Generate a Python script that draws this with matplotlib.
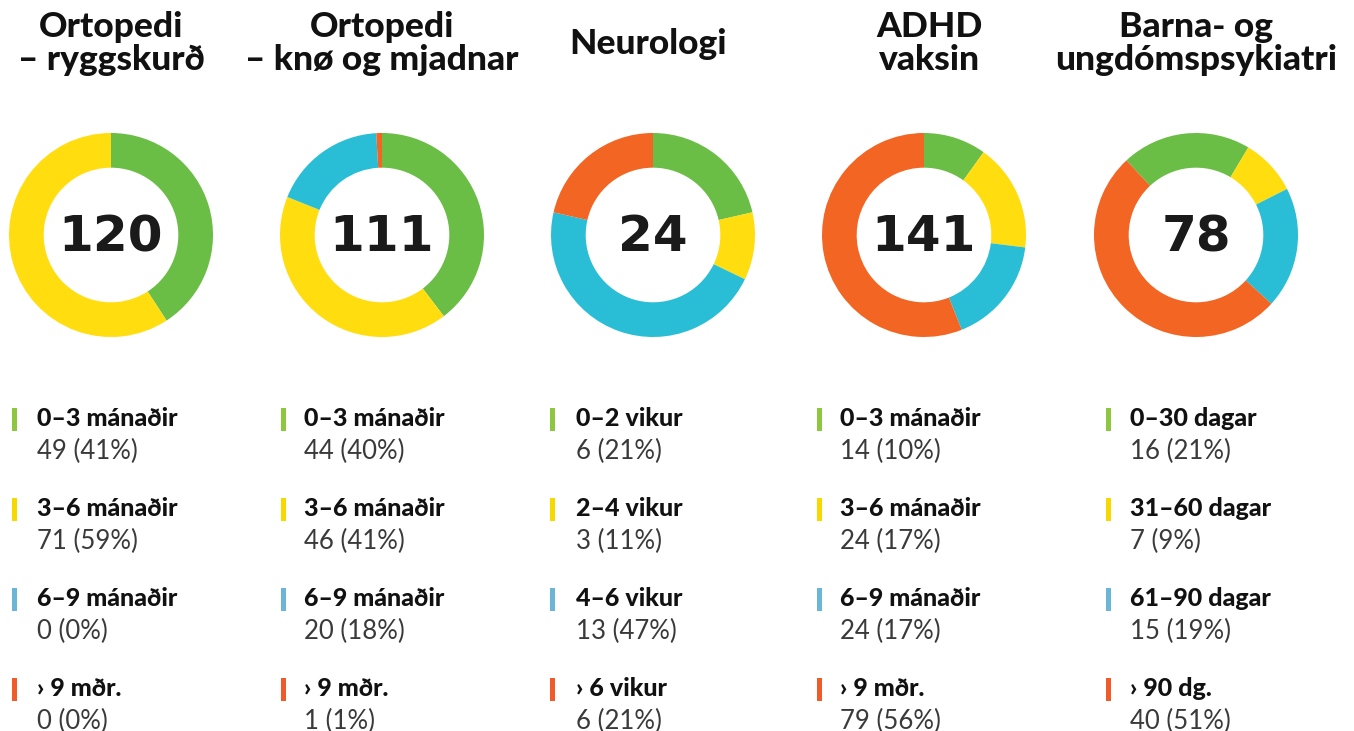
import matplotlib
matplotlib.use("Agg")
import matplotlib.pyplot as plt
from matplotlib.patches import Rectangle

titles = ["Ortopedi\n– ryggskurð", "Ortopedi\n– knø og mjadnar", "Neurologi",
          "ADHD\nvaksin", "Barna- og\nungdómspsykiatri"]
totals = ["120", "111", "24", "141", "78"]
values = [
    [49, 71, 0, 0],
    [44, 46, 20, 1],
    [6, 3, 13, 6],
    [14, 24, 24, 79],
    [16, 7, 15, 40],
]
percents = [
    [41, 59, 0, 0],
    [40, 41, 18, 1],
    [21, 11, 47, 21],
    [10, 17, 17, 56],
    [21, 9, 19, 51],
]
labels = [
    ["0–3 mánaðir", "3–6 mánaðir", "6–9 mánaðir", "› 9 mðr."],
    ["0–3 mánaðir", "3–6 mánaðir", "6–9 mánaðir", "› 9 mðr."],
    ["0–2 vikur", "2–4 vikur", "4–6 vikur", "› 6 vikur"],
    ["0–3 mánaðir", "3–6 mánaðir", "6–9 mánaðir", "› 9 mðr."],
    ["0–30 dagar", "31–60 dagar", "61–90 dagar", "› 90 dg."],
]
start_angles = [90, 90, 90, 90, 133]

pie_colors = ["#6ABD45", "#FFDD0F", "#29BDD6", "#F26522"]
bar_colors = ["#8DC63F", "#F7D900", "#6BB6D6", "#F15A29"]

W, H = 1354, 731
fig = plt.figure(figsize=(W / 100, H / 100), dpi=100)
bg = fig.add_axes([0, 0, 1, 1])
bg.set_xlim(0, W)
bg.set_ylim(H, 0)
bg.axis("off")

centers_x = [111, 382, 653, 924, 1196]
title_x = [111, 382, 648, 930, 1196]
cy = 235
R = 102
legend_bar_x = [12, 281, 550, 817, 1106]
legend_text_x = [37, 304, 576, 840, 1130]
row_y = [419, 509, 599, 689]

title_font = dict(family="Lato", weight="black", fontsize=25.5, color="#111111")

for i in range(5):
    # title
    if "\n" in titles[i]:
        l1, l2 = titles[i].split("\n")
        bg.text(title_x[i], 27, l1, ha="center", va="center", **title_font)
        bg.text(title_x[i], 60, l2, ha="center", va="center", **title_font)
    else:
        bg.text(title_x[i], 44, titles[i], ha="center", va="center", **title_font)

    # donut
    ax = fig.add_axes([(centers_x[i] - R) / W, 1 - (cy + R) / H, 2 * R / W, 2 * R / H])
    ax.pie(values[i], startangle=start_angles[i], counterclock=False, colors=pie_colors,
           wedgeprops=dict(width=0.34, edgecolor="none"))
    ax.set_xlim(-1, 1)
    ax.set_ylim(-1, 1)
    ax.set_aspect("auto")
    ax.axis("off")
    ax.text(0, -0.02, totals[i], ha="center", va="center", family="DejaVu Sans",
            weight="bold", fontsize=36, color="#1a1a1a")

    # legend
    for j in range(4):
        y = row_y[j]
        bg.add_patch(Rectangle((legend_bar_x[i], y - 11), 5, 23, color=bar_colors[j], lw=0))
        bg.text(legend_text_x[i], y, labels[i][j], ha="left", va="center",
                family="Lato", weight="black", fontsize=18, color="#111111")
        bg.text(legend_text_x[i], y + 32, f"{values[i][j]} ({percents[i][j]}%)",
                ha="left", va="center", family="Lato", weight="normal",
                fontsize=18.5, color="#3a3a3a")

fig.savefig("out.png", dpi=100)
